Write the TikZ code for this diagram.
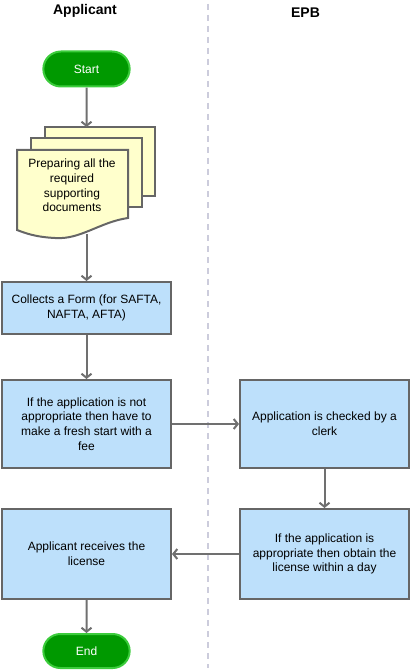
\documentclass[tikz,border=0pt]{standalone}
\usepackage{fontspec}
\setmainfont{Liberation Sans}
\usetikzlibrary{arrows.meta,shapes.misc}
\definecolor{boxblue}{RGB}{189,224,251}
\definecolor{docyellow}{RGB}{255,255,204}
\definecolor{edgegrey}{RGB}{102,102,102}
\definecolor{flowgrey}{RGB}{112,112,112}
\definecolor{termgreen}{RGB}{0,153,0}
\definecolor{termrim}{RGB}{60,204,60}
\definecolor{lanegrey}{RGB}{204,204,220}

\begin{document}
\begin{tikzpicture}[x=1pt,y=-1pt,
  termbox/.style={rounded rectangle, fill=termgreen, draw=termrim, line width=2pt,
    minimum width=93pt, minimum height=35pt, text=white, font=\fontsize{12}{14.5}\selectfont},
  procbox/.style={rectangle, fill=boxblue, draw=edgegrey, line width=2pt,
    minimum width=169pt, align=center, font=\fontsize{12}{14.7}\selectfont},
  flow/.style={draw=flowgrey, line width=2pt, -{Straight Barb[length=4pt,width=10pt]}},
  ]
  \useasboundingbox (0,0) rectangle (411,671);

  % Lanes.
  \draw[lanegrey, line width=2pt, dash pattern=on 6pt off 5pt] (208,4) -- (208,668);
  \node[font=\bfseries\fontsize{14}{16}\selectfont] (applicant) at (85,11) {Applicant};
  \node[font=\bfseries\fontsize{14}{16}\selectfont] (epb) at (305.5,12.5) {EPB};

  % Applicant side
  \node[termbox] (start) at (86.5,69) {Start};

  \draw[fill=docyellow, draw=edgegrey, line width=2pt] (45,127) rectangle (155,196);
  \draw[fill=docyellow, draw=edgegrey, line width=2pt] (31,138) rectangle (142,207);
  \draw[fill=docyellow, draw=edgegrey, line width=2pt] (17,150) -- (128,150) -- (128,218)
    .. controls (100,222) and (80,240) .. (55,238) .. controls (35,237) and (25,233) .. (17,230) -- cycle;
  \node[align=center, font=\fontsize{12}{14.7}\selectfont] (docs) at (72,185.5)
    {Preparing all the\\required\\supporting\\documents};
  \coordinate (doctop) at (86.5,127);
  \coordinate (docbot) at (86.5,234);

  \node[procbox, minimum height=52pt] (form) at (86.5,308) {Collects a Form (for SAFTA,\\NAFTA, AFTA)};
  \node[procbox, minimum height=88pt] (notok) at (86.5,424)
    {If the application is not\\appropriate then have to\\make a fresh start with a\\fee};
  \node[procbox, minimum height=90pt] (receive) at (86.5,554) {Applicant receives the\\license};
  \node[termbox, minimum height=34pt] (end) at (86.5,651) {End};

  % EPB side
  \node[procbox, minimum height=88pt] (check) at (324.5,424) {Application is checked by a\\clerk};
  \node[procbox, minimum height=90pt] (ok) at (324.5,554)
    {If the application is\\appropriate then obtain the\\license within a day};

  % Flow
  \draw[flow] (start) -- (doctop);
  \draw[flow] (docbot) -- (form);
  \draw[flow] (form) -- (notok);
  \draw[flow] (notok) -- (check);
  \draw[flow] (check) -- (ok);
  \draw[flow] (ok) -- (receive);
  \draw[flow] (receive) -- (end);
\end{tikzpicture}
\end{document}
